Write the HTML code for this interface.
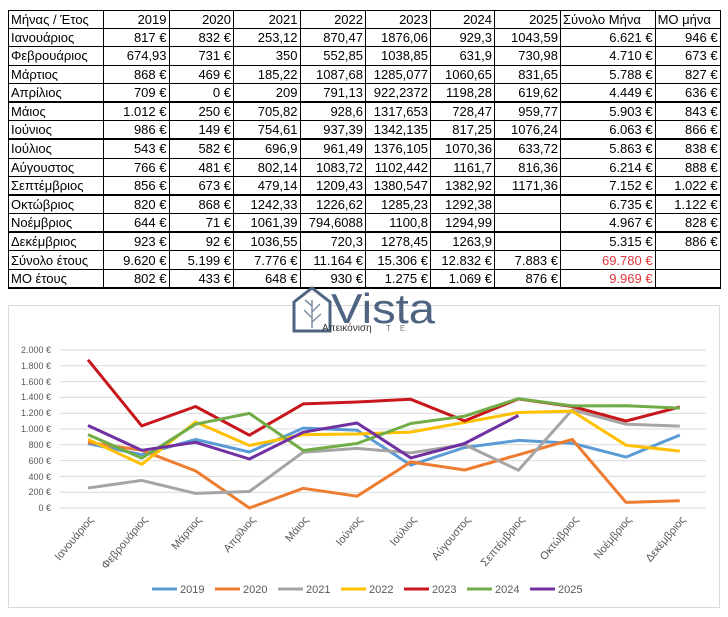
<!DOCTYPE html>
<html><head><meta charset="utf-8"><style>
body{margin:0;width:728px;height:617px;background:#fff;position:relative;overflow:hidden;font-family:"Liberation Sans",sans-serif}
table{position:absolute;left:8px;top:10px;border-collapse:collapse;font-size:13px;color:#000;table-layout:fixed}
td{border:1px solid #000;height:17.2px;padding:0 2px;text-align:right;white-space:nowrap;overflow:hidden;line-height:17px}
td:first-child{text-align:left}
tr.tk td{border-bottom:2.5px solid #000}
.red{color:#e0363a}
#chart{position:absolute;left:0;top:0}
</style></head><body>
<table>
<colgroup><col style="width:95px"><col style="width:65.5px"><col style="width:64.5px"><col style="width:66.5px"><col style="width:65.5px"><col style="width:65px"><col style="width:64px"><col style="width:66px"><col style="width:94.6px"><col style="width:65px"></colgroup>
<tr><td>Μήνας / Έτος</td><td>2019</td><td>2020</td><td>2021</td><td>2022</td><td>2023</td><td>2024</td><td>2025</td><td style="text-align:left">Σύνολο Μήνα</td><td style="text-align:left">ΜΟ μήνα</td></tr>
<tr><td>Ιανουάριος</td><td>817 €</td><td>832 €</td><td>253,12</td><td>870,47</td><td>1876,06</td><td>929,3</td><td>1043,59</td><td>6.621 €</td><td>946 €</td></tr>
<tr><td>Φεβρουάριος</td><td>674,93</td><td>731 €</td><td>350</td><td>552,85</td><td>1038,85</td><td>631,9</td><td>730,98</td><td>4.710 €</td><td>673 €</td></tr>
<tr><td>Μάρτιος</td><td>868 €</td><td>469 €</td><td>185,22</td><td>1087,68</td><td>1285,077</td><td>1060,65</td><td>831,65</td><td>5.788 €</td><td>827 €</td></tr>
<tr class="tk"><td>Απρίλιος</td><td>709 €</td><td>0 €</td><td>209</td><td>791,13</td><td>922,2372</td><td>1198,28</td><td>619,62</td><td>4.449 €</td><td>636 €</td></tr>
<tr><td>Μάιος</td><td>1.012 €</td><td>250 €</td><td>705,82</td><td>928,6</td><td>1317,653</td><td>728,47</td><td>959,77</td><td>5.903 €</td><td>843 €</td></tr>
<tr class="tk"><td>Ιούνιος</td><td>986 €</td><td>149 €</td><td>754,61</td><td>937,39</td><td>1342,135</td><td>817,25</td><td>1076,24</td><td>6.063 €</td><td>866 €</td></tr>
<tr><td>Ιούλιος</td><td>543 €</td><td>582 €</td><td>696,9</td><td>961,49</td><td>1376,105</td><td>1070,36</td><td>633,72</td><td>5.863 €</td><td>838 €</td></tr>
<tr><td>Αύγουστος</td><td>766 €</td><td>481 €</td><td>802,14</td><td>1083,72</td><td>1102,442</td><td>1161,7</td><td>816,36</td><td>6.214 €</td><td>888 €</td></tr>
<tr class="tk"><td>Σεπτέμβριος</td><td>856 €</td><td>673 €</td><td>479,14</td><td>1209,43</td><td>1380,547</td><td>1382,92</td><td>1171,36</td><td>7.152 €</td><td>1.022 €</td></tr>
<tr><td>Οκτώβριος</td><td>820 €</td><td>868 €</td><td>1242,33</td><td>1226,62</td><td>1285,23</td><td>1292,38</td><td></td><td>6.735 €</td><td>1.122 €</td></tr>
<tr class="tk"><td>Νοέμβριος</td><td>644 €</td><td>71 €</td><td>1061,39</td><td>794,6088</td><td>1100,8</td><td>1294,99</td><td></td><td>4.967 €</td><td>828 €</td></tr>
<tr><td>Δεκέμβριος</td><td>923 €</td><td>92 €</td><td>1036,55</td><td>720,3</td><td>1278,45</td><td>1263,9</td><td></td><td>5.315 €</td><td>886 €</td></tr>
<tr><td>Σύνολο έτους</td><td>9.620 €</td><td>5.199 €</td><td>7.776 €</td><td>11.164 €</td><td>15.306 €</td><td>12.832 €</td><td>7.883 €</td><td class="red">69.780 €</td><td></td></tr>
<tr class="tk"><td>ΜΟ έτους</td><td>802 €</td><td>433 €</td><td>648 €</td><td>930 €</td><td>1.275 €</td><td>1.069 €</td><td>876 €</td><td class="red">9.969 €</td><td></td></tr>
</table>
<svg id="chart" width="728" height="617" font-family="Liberation Sans, sans-serif">
<rect x="8.5" y="305.5" width="711" height="302" fill="#fff" stroke="#d9d9d9"/>
<g stroke="#d9d9d9" stroke-width="1">
<line x1="60" x2="706" y1="350" y2="350"/><line x1="60" x2="706" y1="365.8" y2="365.8"/><line x1="60" x2="706" y1="381.6" y2="381.6"/><line x1="60" x2="706" y1="397.4" y2="397.4"/><line x1="60" x2="706" y1="413.2" y2="413.2"/><line x1="60" x2="706" y1="429" y2="429"/><line x1="60" x2="706" y1="444.8" y2="444.8"/><line x1="60" x2="706" y1="460.6" y2="460.6"/><line x1="60" x2="706" y1="476.4" y2="476.4"/><line x1="60" x2="706" y1="492.2" y2="492.2"/><line x1="60" x2="706" y1="508" y2="508"/>
</g>
<g font-size="9" fill="#595959" text-anchor="end">
<text x="51" y="353">2.000 €</text><text x="51" y="369">1.800 €</text><text x="51" y="385">1.600 €</text><text x="51" y="400">1.400 €</text><text x="51" y="416">1.200 €</text><text x="51" y="432">1.000 €</text><text x="51" y="448">800 €</text><text x="51" y="464">600 €</text><text x="51" y="480">400 €</text><text x="51" y="495">200 €</text><text x="51" y="511">0 €</text>
</g>
<g font-size="11" fill="#595959" text-anchor="end">
<text transform="translate(94,520) rotate(-50)">Ιανουάριος</text>
<text transform="translate(148,520) rotate(-50)">Φεβρουάριος</text>
<text transform="translate(202,520) rotate(-50)">Μάρτιος</text>
<text transform="translate(256,520) rotate(-50)">Απρίλιος</text>
<text transform="translate(309,520) rotate(-50)">Μάιος</text>
<text transform="translate(363,520) rotate(-50)">Ιούνιος</text>
<text transform="translate(417,520) rotate(-50)">Ιούλιος</text>
<text transform="translate(471,520) rotate(-50)">Αύγουστος</text>
<text transform="translate(525,520) rotate(-50)">Σεπτέμβριος</text>
<text transform="translate(579,520) rotate(-50)">Οκτώβριος</text>
<text transform="translate(632,520) rotate(-50)">Νοέμβριος</text>
<text transform="translate(686,520) rotate(-50)">Δεκέμβριος</text>
</g>
<g id="lines" fill="none" stroke-width="3" stroke-linejoin="round"></g>
<g font-size="11" fill="#595959">
<line x1="152" x2="177" y1="589" y2="589" stroke="#5b9bd5" stroke-width="3"/><text x="180" y="593">2019</text>
<line x1="215" x2="240" y1="589" y2="589" stroke="#ed7d31" stroke-width="3"/><text x="243" y="593">2020</text>
<line x1="278" x2="303" y1="589" y2="589" stroke="#a5a5a5" stroke-width="3"/><text x="306" y="593">2021</text>
<line x1="341" x2="366" y1="589" y2="589" stroke="#ffc000" stroke-width="3"/><text x="369" y="593">2022</text>
<line x1="404" x2="429" y1="589" y2="589" stroke="#c8161d" stroke-width="3"/><text x="432" y="593">2023</text>
<line x1="467" x2="492" y1="589" y2="589" stroke="#70ad47" stroke-width="3"/><text x="495" y="593">2024</text>
<line x1="530" x2="555" y1="589" y2="589" stroke="#7030a0" stroke-width="3"/><text x="558" y="593">2025</text>
</g>
<g>
<path d="M294 302 L312 288 L330 302 L330 331 L294 331 Z" fill="#fff" stroke="#4e6480" stroke-width="3"/>
<path d="M312 328 L312 300 M312 318 L304 310 M312 312 L320 304 M312 322 L321 314 M312 306 L305 300" stroke="#7d8fa3" stroke-width="1.5" fill="none"/>
<text x="331" y="323" font-size="42" fill="#4e6480" textLength="104" lengthAdjust="spacingAndGlyphs">Vista</text>
<text x="322" y="331" font-size="10" fill="#333">Απεικόνιση</text>
<text x="386" y="331" font-size="8" fill="#777" letter-spacing="9">TE</text>
</g>
</svg>
<script>
var d={"#5b9bd5":[817,675,868,709,1012,986,543,766,856,820,644,923],
"#ed7d31":[832,731,469,0,250,149,582,481,673,868,71,92],
"#a5a5a5":[253,350,185,209,706,755,697,802,479,1242,1061,1037],
"#ffc000":[870,553,1088,791,929,937,961,1084,1209,1227,795,720],
"#c8161d":[1876,1039,1285,922,1318,1342,1376,1102,1381,1285,1101,1278],
"#70ad47":[929,632,1061,1198,728,817,1070,1162,1383,1292,1295,1264],
"#7030a0":[1044,731,832,620,960,1076,634,816,1171]};
var g=document.getElementById('lines'),s='';
for(var c in d){var p=d[c].map(function(v,i){return (88+i*53.8).toFixed(1)+','+(508-v*0.079).toFixed(1)}).join(' ');
s+='<polyline points="'+p+'" stroke="'+c+'"/>';}
g.innerHTML=s;
</script>
</body></html>
